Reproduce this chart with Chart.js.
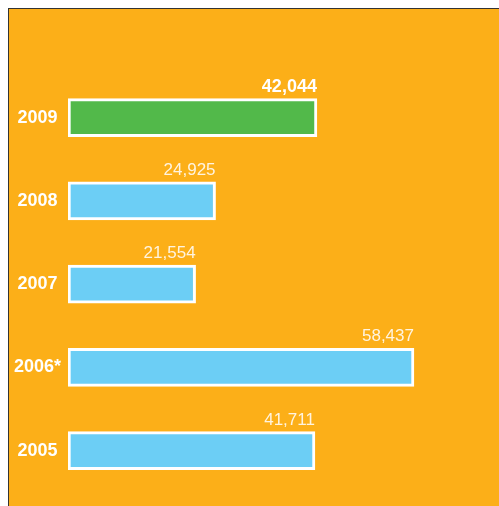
<!DOCTYPE html>
<html>
<head>
<meta charset="utf-8">
<script src="https://cdn.jsdelivr.net/npm/chart.js@4"></script>
<style>
  html, body { margin: 0; padding: 0; background: #fff; overflow: hidden; }
  #panel {
    position: absolute; left: 8px; top: 8px; width: 490px; height: 497px; overflow: hidden;
    background: #fcaf18; border-top: 1px solid #333; border-left: 1px solid #333;
  }
  #myChart { display: block; }
</style>
</head>
<body>
<div id="panel"><canvas id="myChart" width="490" height="501"></canvas></div>
<script>
// years, top to bottom
const years = ['2009', '2008', '2007', '2006*', '2005'];
const values = [42044, 24925, 21554, 58437, 41711];
const barColors = ['#52b94a', '#6ccef5', '#6ccef5', '#6ccef5', '#6ccef5'];

// value labels above the right end of each bar
const valueLabels = {
  id: 'valueLabels',
  afterDatasetsDraw(chart) {
    const ctx = chart.ctx;
    const meta = chart.getDatasetMeta(0);
    ctx.save();
    ctx.textAlign = 'right';
    ctx.textBaseline = 'alphabetic';
    meta.data.forEach((bar, i) => {
      const top = bar.y - bar.height / 2;
      if (i === 0) {
        ctx.font = 'bold 18px "Liberation Sans", Arial, sans-serif';
        ctx.fillStyle = '#ffffff';
      } else {
        ctx.font = '17px "Liberation Sans", Arial, sans-serif';
        ctx.fillStyle = 'rgba(255,248,235,0.95)';
      }
      ctx.fillText(values[i].toLocaleString('en-US'), bar.x, top - 7);
    });
    ctx.restore();
  }
};

const myChart = document.getElementById('myChart');

new Chart(myChart, {
  type: 'bar',
  data: {
    labels: years,
    datasets: [{
      data: values,
      backgroundColor: barColors,
      borderColor: '#ffffff',
      borderWidth: 3,
      borderSkipped: false,
      barThickness: 38,
      categoryPercentage: 1
    }]
  },
  options: {
    indexAxis: 'y',
    responsive: false,
    animation: false,
    layout: { padding: { top: 67, bottom: 5, left: 0, right: 0 } },
    plugins: { legend: { display: false }, tooltip: { enabled: false } },
    scales: {
      x: {
        display: false,
        min: 0,
        max: 72800
      },
      y: {
        afterFit(scale) { scale.width = 59; },
        grid: { display: false, drawTicks: false },
        border: { display: false },
        ticks: {
          color: '#ffffff',
          padding: 7,
          crossAlign: 'center',
          font: { family: '"Liberation Sans", Arial, sans-serif', size: 18, weight: 'bold' }
        }
      }
    }
  },
  plugins: [valueLabels]
});
</script>
</body>
</html>
